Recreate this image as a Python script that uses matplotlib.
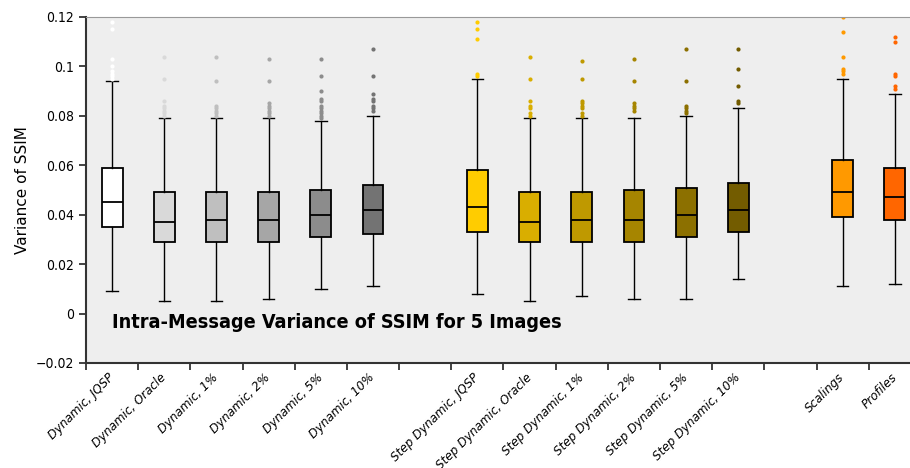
import matplotlib
matplotlib.use("Agg")
import matplotlib.pyplot as plt
from matplotlib.ticker import FixedLocator, FuncFormatter

# box positions (gaps at 7 and 14 between groups)
positions = [1, 2, 3, 4, 5, 6, 8, 9, 10, 11, 12, 13, 15, 16]
labels = ["Dynamic, JQSP", "Dynamic, Oracle", "Dynamic, 1%", "Dynamic, 2%",
          "Dynamic, 5%", "Dynamic, 10%",
          "Step Dynamic, JQSP", "Step Dynamic, Oracle", "Step Dynamic, 1%",
          "Step Dynamic, 2%", "Step Dynamic, 5%", "Step Dynamic, 10%",
          "Scalings", "Profiles"]
colors = ["#ffffff", "#d9d9d9", "#bfbfbf", "#a6a6a6", "#8c8c8c", "#737373",
          "#ffcc00", "#d9ae00", "#bf9900", "#a68500", "#8c7000", "#735c00",
          "#ff9900", "#ff6600"]

whislo = [0.009, 0.005, 0.005, 0.006, 0.010, 0.011,
          0.008, 0.005, 0.007, 0.006, 0.006, 0.014,
          0.011, 0.012]
q1 = [0.035, 0.029, 0.029, 0.029, 0.031, 0.032,
      0.033, 0.029, 0.029, 0.029, 0.031, 0.033,
      0.039, 0.038]
med = [0.045, 0.037, 0.038, 0.038, 0.040, 0.042,
       0.043, 0.037, 0.038, 0.038, 0.040, 0.042,
       0.049, 0.047]
q3 = [0.059, 0.049, 0.049, 0.049, 0.050, 0.052,
      0.058, 0.049, 0.049, 0.050, 0.051, 0.053,
      0.062, 0.059]
whishi = [0.094, 0.079, 0.079, 0.079, 0.078, 0.080,
          0.095, 0.079, 0.079, 0.079, 0.080, 0.083,
          0.095, 0.089]
fliers = [
    [0.095, 0.096, 0.097, 0.098, 0.100, 0.103, 0.115, 0.118],
    [0.080, 0.081, 0.082, 0.083, 0.084, 0.086, 0.095, 0.104],
    [0.080, 0.081, 0.082, 0.083, 0.084, 0.094, 0.104],
    [0.080, 0.081, 0.082, 0.083, 0.084, 0.085, 0.094, 0.103],
    [0.079, 0.080, 0.081, 0.082, 0.083, 0.084, 0.086, 0.087, 0.090, 0.096, 0.103],
    [0.082, 0.083, 0.084, 0.086, 0.087, 0.089, 0.096, 0.107],
    [0.096, 0.097, 0.111, 0.115, 0.118],
    [0.080, 0.081, 0.083, 0.084, 0.086, 0.095, 0.104],
    [0.080, 0.081, 0.083, 0.084, 0.085, 0.086, 0.095, 0.102],
    [0.082, 0.083, 0.084, 0.085, 0.094, 0.103],
    [0.081, 0.082, 0.083, 0.084, 0.094, 0.107],
    [0.085, 0.086, 0.092, 0.099, 0.107],
    [0.097, 0.098, 0.099, 0.104, 0.114, 0.120],
    [0.091, 0.092, 0.096, 0.097, 0.110, 0.112],
]

stats = []
for i in range(len(positions)):
    stats.append({"whislo": whislo[i], "q1": q1[i], "med": med[i],
                  "q3": q3[i], "whishi": whishi[i], "fliers": fliers[i]})

fig = plt.figure(figsize=(9.1, 4.68), dpi=100)
ax = fig.add_axes([0.0945, 0.2244, 0.9055, 0.7393])
ax.set_facecolor("#eeeeee")

bp = ax.bxp(stats, positions=positions, widths=0.4, patch_artist=True,
            showfliers=True, capwidths=0.22,
            boxprops=dict(edgecolor="black", linewidth=1.3),
            medianprops=dict(color="black", linewidth=1.3),
            whiskerprops=dict(color="black", linewidth=1.0),
            capprops=dict(color="black", linewidth=1.0))
for patch, c in zip(bp["boxes"], colors):
    patch.set_facecolor(c)
for fl, c in zip(bp["fliers"], colors):
    fl.set(marker="o", markersize=3, markerfacecolor=c, markeredgecolor="none")

ax.set_xlim(0.5, 16.29)
ax.set_ylim(-0.02, 0.12)
ax.set_yticks([-0.02, 0, 0.02, 0.04, 0.06, 0.08, 0.1, 0.12])
ax.yaxis.set_major_formatter(FuncFormatter(lambda v, p: "%g" % round(v, 4) if v >= 0 else "\u22120.02"))
for t in ax.get_yticklabels():
    t.set_fontstretch("condensed")
    t.set_fontsize(10)

ax.set_xticks(positions)
ax.set_xticklabels(labels, rotation=45, ha="right", va="center",
                   rotation_mode="anchor", fontsize=9.5, style="italic",
                   fontstretch="condensed")
ax.tick_params(axis="x", which="major", length=0, pad=9)
ax.xaxis.set_minor_locator(FixedLocator([k + 0.5 for k in range(16)]))
ax.tick_params(axis="x", which="minor", length=5, width=1.2, color="#222222")
ax.tick_params(axis="y", length=5, width=1.2, color="#222222")

ax.spines["right"].set_visible(False)
ax.spines["top"].set_color("#999999")
ax.spines["left"].set_color("#333333")
ax.spines["left"].set_linewidth(1.5)
ax.spines["bottom"].set_color("#333333")
ax.spines["bottom"].set_linewidth(1.5)

ax.set_ylabel("Variance of SSIM", fontsize=11)
ax.yaxis.set_label_coords(-0.068, 0.5)

ax.text(1.0, -0.0037, "Intra-Message Variance of SSIM for 5 Images",
        fontsize=14.2, fontweight="bold", fontstretch="condensed",
        ha="left", va="center")

fig.savefig("out.png", dpi=100)
